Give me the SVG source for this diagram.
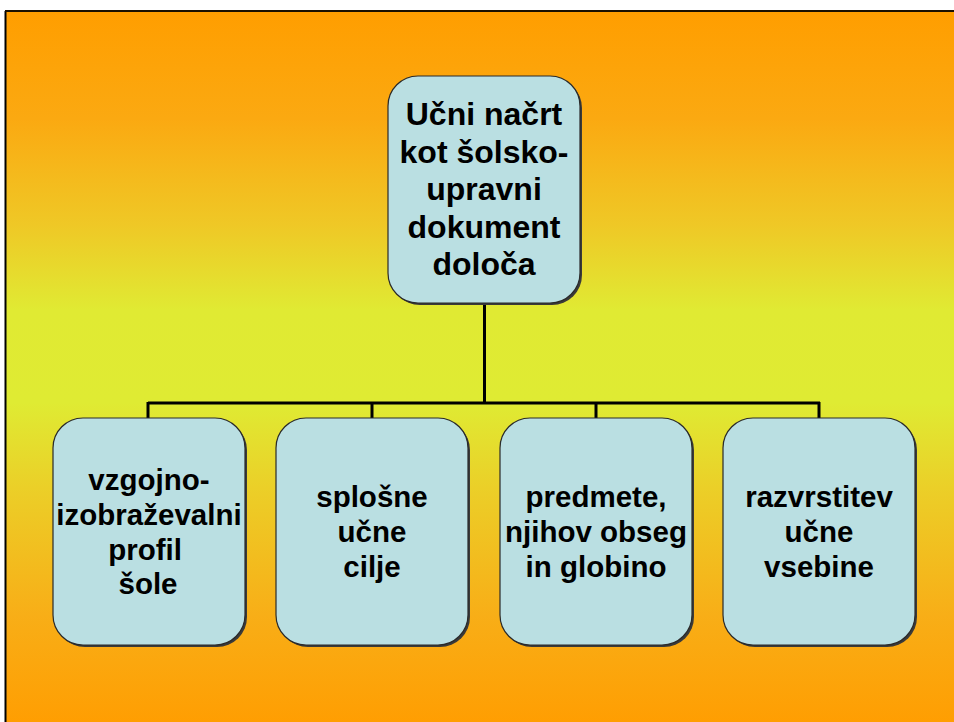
<svg xmlns="http://www.w3.org/2000/svg" width="954" height="722" viewBox="0 0 954 722">
<defs>
<linearGradient id="bg" x1="0" y1="12" x2="0" y2="722" gradientUnits="userSpaceOnUse">
<stop offset="0" stop-color="#FF9E00"/>
<stop offset="0.15" stop-color="#FBA911"/>
<stop offset="0.3" stop-color="#EFC826"/>
<stop offset="0.42" stop-color="#E0EA33"/>
<stop offset="0.55" stop-color="#DFEB33"/>
<stop offset="0.68" stop-color="#ECCD27"/>
<stop offset="0.85" stop-color="#F8AE17"/>
<stop offset="1" stop-color="#FF9E02"/>
</linearGradient>
<style>
.box{fill:#BADFE2;stroke:#2a2a2a;stroke-width:1.2}
.sh{fill:#3a3a3a}
.t{font-family:"Liberation Sans",Arial,sans-serif;font-weight:bold;fill:#000;text-anchor:middle}
.top{font-size:32px}
.bot{font-size:29.5px}
.c{fill:none;stroke:#000;stroke-width:3}
</style>
</defs>
<rect x="0" y="0" width="954" height="722" fill="#fff"/>
<rect x="6" y="12" width="948" height="710" fill="url(#bg)"/>
<line x1="5.5" y1="11" x2="5.5" y2="722" stroke="#000" stroke-width="2"/>
<line x1="5" y1="11" x2="954" y2="11" stroke="#1a1000" stroke-width="2"/>
<g id="connectors">
<path class="c" d="M484.5 303 V403 M148 403 H820 M148 402 V418 M372 402 V418 M596 402 V418 M819 402 V418"/>
</g>
<g id="root">
<rect class="sh" x="390" y="78" width="192" height="227" rx="30"/>
<rect class="box" x="388" y="76" width="192" height="227" rx="30"/>
<text class="t top" x="484" y="125">Učni načrt</text>
<text class="t top" x="484" y="163">kot šolsko-</text>
<text class="t top" x="484" y="200">upravni</text>
<text class="t top" x="484" y="238">dokument</text>
<text class="t top" x="484" y="275">določa</text>
</g>
<g id="n1">
<rect class="sh" x="55" y="420" width="192" height="227" rx="30"/>
<rect class="box" x="53" y="418" width="192" height="227" rx="30"/>
<text class="t bot" x="149" y="490">vzgojno-</text>
<text class="t bot" x="149" y="525">izobraževalni</text>
<text class="t bot" x="145" y="560">profil</text>
<text class="t bot" x="148" y="594">šole</text>
</g>
<g id="n2">
<rect class="sh" x="278" y="420" width="192" height="227" rx="30"/>
<rect class="box" x="276" y="418" width="192" height="227" rx="30"/>
<text class="t bot" x="372" y="507">splošne</text>
<text class="t bot" x="372" y="542">učne</text>
<text class="t bot" x="372" y="577">cilje</text>
</g>
<g id="n3">
<rect class="sh" x="502" y="420" width="192" height="227" rx="30"/>
<rect class="box" x="500" y="418" width="192" height="227" rx="30"/>
<text class="t bot" x="596" y="507">predmete,</text>
<text class="t bot" x="596" y="542">njihov obseg</text>
<text class="t bot" x="596" y="577">in globino</text>
</g>
<g id="n4">
<rect class="sh" x="725" y="420" width="192" height="227" rx="30"/>
<rect class="box" x="723" y="418" width="192" height="227" rx="30"/>
<text class="t bot" x="819" y="507">razvrstitev</text>
<text class="t bot" x="819" y="542">učne</text>
<text class="t bot" x="819" y="577">vsebine</text>
</g>
</svg>
